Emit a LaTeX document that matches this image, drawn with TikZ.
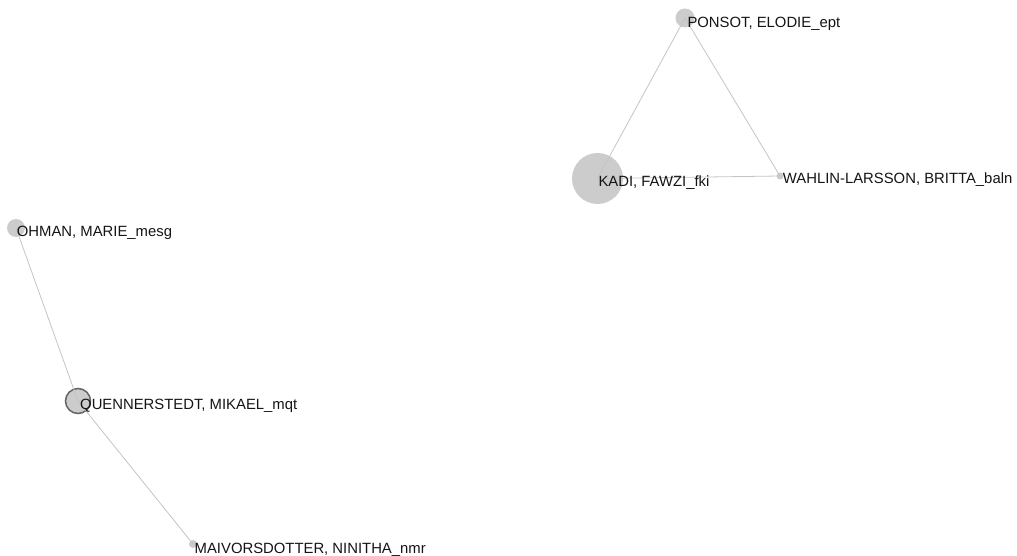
\documentclass[tikz,border=0pt]{standalone}
\usepackage{fontspec}
\setmainfont{Liberation Sans}
\definecolor{nodegray}{RGB}{204,204,204}
\definecolor{edgegray}{RGB}{196,196,196}
\definecolor{ringgray}{RGB}{100,100,100}
\definecolor{labelcol}{RGB}{20,20,20}
\begin{document}
\begin{tikzpicture}[x=1bp,y=-1bp,
  vertex/.style={circle,fill=nodegray,draw=none,inner sep=0pt,minimum size=#1},
  ringed/.style={draw=ringgray,line width=1.5bp},
  link/.style={draw=edgegray,line width=0.8bp},
  lbl/.style={anchor=base west,inner sep=0pt,text=labelcol,font=\fontsize{14.85bp}{17bp}\selectfont}]
\useasboundingbox (0,0) rectangle (1017,556);
% nodes
\node[vertex=19bp] (ponsot) at (685,18) {};
\node[vertex=51bp] (kadi) at (597.5,178.5) {};
\node[vertex=7bp] (wahlin) at (780,176) {};
\node[vertex=18bp] (ohman) at (16,228) {};
\node[vertex=25bp,ringed] (quenn) at (78,401) {};
\node[vertex=8bp] (maiv) at (193,544) {};
% edges
\draw[link] (kadi.center) -- (ponsot.center);
\draw[link] (ponsot.center) -- (wahlin.center);
\draw[link] (kadi.center) -- (wahlin.center);
\draw[link] (ohman.center) -- (quenn.center);
\draw[link] (quenn.center) -- (maiv.center);
% labels
\node[lbl] (lponsot) at (687.3,27.5) {PONSOT, ELODIE\_ept};
\node[lbl] (lkadi) at (598.3,186.2) {KADI, FAWZI\_fki};
\node[lbl] (lwahlin) at (782.7,183.5) {WAHLIN-LARSSON, BRITTA\_baln};
\node[lbl] (lohman) at (16.7,236.6) {OHMAN, MARIE\_mesg};
\node[lbl] (lquenn) at (80,409.2) {QUENNERSTEDT, MIKAEL\_mqt};
\node[lbl] (lmaiv) at (194.5,553.2) {MAIVORSDOTTER, NINITHA\_nmr};
\end{tikzpicture}
\end{document}
